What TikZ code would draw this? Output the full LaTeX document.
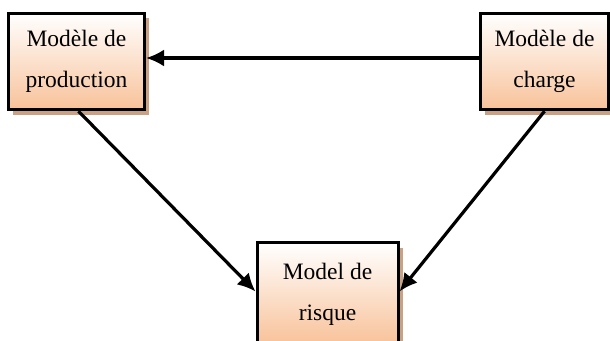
\documentclass[tikz,border=0pt]{standalone}
\usepackage{fontspec}
\setmainfont{Liberation Serif}
\usepackage{xcolor}
\usepackage{tikz}
\usetikzlibrary{arrows.meta,shadows}
\definecolor{peach}{HTML}{F8C29A}
\definecolor{shadowtan}{HTML}{C9A286}
\tikzset{
  box/.style={draw=black,line width=3pt,top color=white,bottom color=peach,
    align=center,minimum height=96.5pt,inner sep=0pt,
    font=\fontsize{23.5}{41}\selectfont,
    drop shadow={shadow xshift=4.5pt,shadow yshift=-5pt,fill=shadowtan,opacity=1}},
  arrow/.style={-{Latex[length=18pt,width=17pt]},draw=black,line width=3.2pt}
}
\begin{document}
\begin{tikzpicture}
  \useasboundingbox (0,0) rectangle (610pt,340pt);
  \node[box,minimum width=136pt] (production) at (76.5pt,278.5pt) {Modèle de\\production};
  \node[box,minimum width=128pt] (charge) at (544.5pt,278.5pt) {Modèle de\\charge};
  \node[box,minimum width=141pt,minimum height=101pt,text depth=4pt] (risque) at (327.5pt,46.5pt) {Model de\\risque};
  \draw[arrow] ([yshift=3.5pt]charge.west) -- ([yshift=3.5pt]production.east);
  \draw[arrow] ([xshift=2pt]production.south) -- ([yshift=2pt]risque.west);
  \draw[arrow] (charge.south) -- ([yshift=2pt]risque.east);
\end{tikzpicture}
\end{document}
